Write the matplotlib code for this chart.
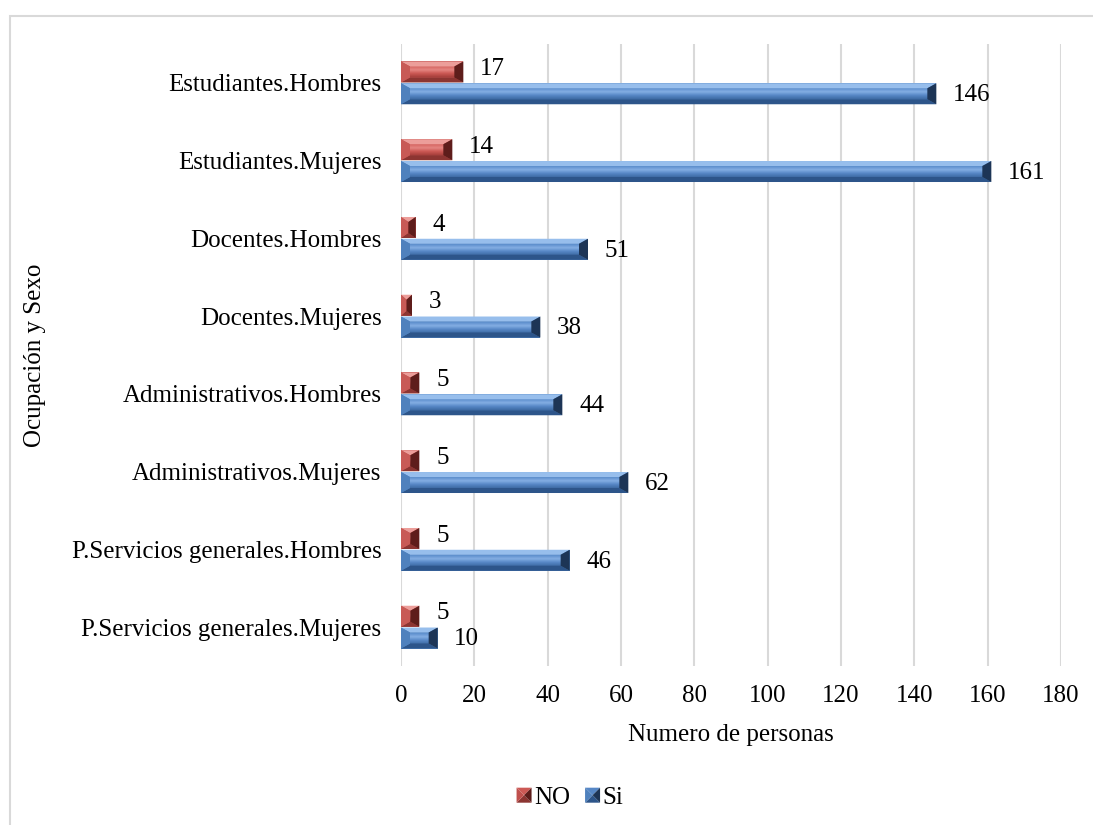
import numpy as np
import matplotlib.pyplot as plt
from matplotlib.patches import Polygon, Rectangle
from matplotlib.colors import LinearSegmentedColormap
from matplotlib.legend_handler import HandlerPatch

categorias = ['Estudiantes.Hombres', 'Estudiantes.Mujeres', 'Docentes.Hombres',
              'Docentes.Mujeres', 'Administrativos.Hombres', 'Administrativos.Mujeres',
              'P.Servicios generales.Hombres', 'P.Servicios generales.Mujeres']
valores_no = [17, 14, 4, 3, 5, 5, 5, 5]
valores_si = [146, 161, 51, 38, 44, 62, 46, 10]
ticks_x = [0, 20, 40, 60, 80, 100, 120, 140, 160, 180]

plt.rcParams['font.family'] = ['Liberation Serif', 'DejaVu Serif']
FS = 18

# base, top strip, left end, bottom strip, right end, face gradient (top -> bottom)
rojo = dict(base='#C0504D', top='#EC9E9A', left='#C85A56', bottom='#8C3532',
            right='#5E1D1B', face=['#D4635F', '#E58682', '#CC5955', '#A8403D'])
azul = dict(base='#4F81BD', top='#97BEEC', left='#4F81BD', bottom='#2D558A',
            right='#1D3556', face=['#5C8ECC', '#84AEE3', '#5687C6', '#3F6CA5'])


def bevel(ax, patch, cols, bx_px=9, by_px=5):
    # draw an Excel-like bevel on top of a bar patch
    x0, y0 = patch.get_x(), patch.get_y()
    w, h = patch.get_width(), patch.get_height()
    x1, y1 = x0 + w, y0 + h
    inv = ax.transData.inverted()
    p0 = inv.transform((0, 0))
    p1 = inv.transform((bx_px, by_px))
    bx = min(abs(p1[0] - p0[0]), w / 2)
    by = min(abs(p1[1] - p0[1]), h / 2)
    cmap = LinearSegmentedColormap.from_list('f', cols['face'][::-1])
    grad = np.linspace(1, 0, 32).reshape(-1, 1)
    ax.imshow(grad, cmap=cmap, extent=(x0 + bx, x1 - bx, y0 + by, y1 - by),
              aspect='auto', origin='upper', zorder=2.5, interpolation='bilinear')
    polys = [
        ([(x0, y1), (x1, y1), (x1 - bx, y1 - by), (x0 + bx, y1 - by)], cols['top']),
        ([(x0, y0), (x1, y0), (x1 - bx, y0 + by), (x0 + bx, y0 + by)], cols['bottom']),
        ([(x0, y0), (x0, y1), (x0 + bx, y1 - by), (x0 + bx, y0 + by)], cols['left']),
        ([(x1, y0), (x1, y1), (x1 - bx, y1 - by), (x1 - bx, y0 + by)], cols['right']),
    ]
    for pts, c in polys:
        ax.add_patch(Polygon(pts, closed=True, fc=c, ec='none', zorder=3))


class HandlerBevel(HandlerPatch):
    def __init__(self, cols):
        super().__init__()
        self.cols = cols

    def create_artists(self, legend, orig_handle, xdescent, ydescent,
                       width, height, fontsize, trans):
        s = min(width, height)
        x0 = -xdescent + (width - s) / 2
        y0 = -ydescent + (height - s) / 2
        cx, cy = x0 + s / 2, y0 + s / 2
        c = self.cols
        tris = [
            ([(x0, y0 + s), (x0 + s, y0 + s), (cx, cy)], c['face'][2]),
            ([(x0, y0), (x0 + s, y0), (cx, cy)], c['bottom']),
            ([(x0, y0), (x0, y0 + s), (cx, cy)], c['base']),
            ([(x0 + s, y0), (x0 + s, y0 + s), (cx, cy)], c['right']),
        ]
        return [Polygon(pts, closed=True, fc=col, ec='none', transform=trans)
                for pts, col in tris]


fig = plt.figure(figsize=(10.93, 8.25), dpi=100)
ax = fig.add_axes([401 / 1093, 1 - 666 / 825, 660 / 1093, 622 / 825])

n = len(categorias)
ypos = np.arange(n)[::-1]
h = 0.27
off = 0.14

bars_no = ax.barh(ypos + off, valores_no, height=h, color=rojo['base'], zorder=2, label='NO')
bars_si = ax.barh(ypos - off, valores_si, height=h, color=azul['base'], zorder=2, label='Si')

ax.set_xlim(0, 180)
ax.set_ylim(-0.5, n - 0.5)
fig.canvas.draw()

for b in bars_no:
    bevel(ax, b, rojo)
for b in bars_si:
    bevel(ax, b, azul)
ax.set_xlim(0, 180)
ax.set_ylim(-0.5, n - 0.5)

for b, v in zip(bars_no, valores_no):
    ax.annotate(str(v), (v, b.get_y() + b.get_height() / 2), xytext=(12, 2),
                textcoords='offset points', va='center', ha='left', fontsize=FS)
for b, v in zip(bars_si, valores_si):
    ax.annotate(str(v), (v, b.get_y() + b.get_height() / 2), xytext=(12, -1),
                textcoords='offset points', va='center', ha='left', fontsize=FS)

ax.set_yticks(ypos)
ax.set_yticklabels(categorias, fontsize=FS)
ax.set_xticks(ticks_x)
ax.set_xticklabels([str(t) for t in ticks_x], fontsize=FS)
ax.tick_params(axis='y', length=0, pad=14)
ax.tick_params(axis='x', length=0, pad=14)
for s in ax.spines.values():
    s.set_visible(False)
ax.grid(axis='x', color='#D9D9D9', lw=1.5, zorder=0)
ax.set_axisbelow(True)

ax.set_xlabel('Numero de personas', fontsize=FS, labelpad=12)
fig.text(35 / 1093, 1 - 355 / 825, 'Ocupación y Sexo', rotation=90,
         fontsize=FS, ha='center', va='center')

leg = fig.legend(handles=[bars_no, bars_si], labels=['NO', 'Si'],
                 loc='center', bbox_to_anchor=(570 / 1093, 1 - 798 / 825),
                 ncol=2, frameon=False, fontsize=FS, handlelength=0.6,
                 handleheight=0.6, handletextpad=0.1, columnspacing=0.6,
                 handler_map={bars_no: HandlerBevel(rojo), bars_si: HandlerBevel(azul)})

fig.add_artist(Rectangle((10 / 1093, -0.1), 2, 1 - 16 / 825 + 0.1,
                         transform=fig.transFigure, fill=False,
                         ec='#D9D9D9', lw=1.5))

fig.savefig('out.png', dpi=100)
